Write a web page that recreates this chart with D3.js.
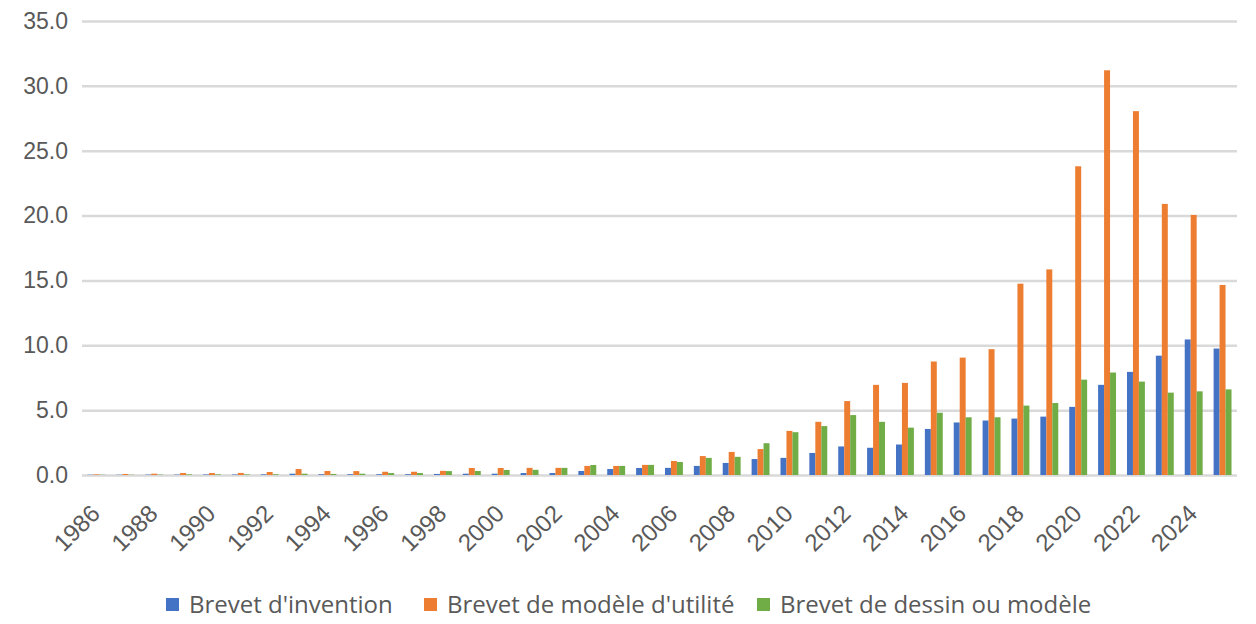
<!DOCTYPE html>
<html>
<head>
<meta charset="utf-8">
<script src="https://cdn.jsdelivr.net/npm/d3@7.9.0/dist/d3.min.js"></script>
<style>
  body { margin: 0; background: #fff; }
  svg { display: block; font-family: "Open Sans", "Noto Sans", sans-serif; }
</style>
</head>
<body>
<div id="chart"></div>
<script>
const years = [
  1986, 1987, 1988, 1989, 1990, 1991, 1992, 1993, 1994, 1995,
  1996, 1997, 1998, 1999, 2000, 2001, 2002, 2003, 2004, 2005,
  2006, 2007, 2008, 2009, 2010, 2011, 2012, 2013, 2014, 2015,
  2016, 2017, 2018, 2019, 2020, 2021, 2022, 2023, 2024, 2025
];

const invention = [
  0.02, 0.02, 0.03, 0.03, 0.04, 0.04, 0.05, 0.10, 0.06, 0.06,
  0.06, 0.06, 0.08, 0.10, 0.10, 0.15, 0.15, 0.31, 0.46, 0.54,
  0.55, 0.70, 0.93, 1.23, 1.32, 1.70, 2.20, 2.10, 2.35, 3.55,
  4.05, 4.20, 4.35, 4.50, 5.25, 6.95, 7.95, 9.20, 10.45, 9.75
];

const utility = [
  0.05, 0.08, 0.10, 0.15, 0.15, 0.16, 0.23, 0.46, 0.31, 0.30,
  0.25, 0.25, 0.32, 0.54, 0.54, 0.55, 0.55, 0.70, 0.70, 0.78,
  1.08, 1.46, 1.78, 2.00, 3.40, 4.10, 5.70, 6.95, 7.10, 8.75,
  9.05, 9.70, 14.75, 15.85, 23.80, 31.20, 28.05, 20.90, 20.05, 14.65
];

const design = [
  0.02, 0.02, 0.03, 0.05, 0.05, 0.05, 0.06, 0.10, 0.08, 0.10,
  0.15, 0.15, 0.30, 0.31, 0.39, 0.40, 0.55, 0.77, 0.70, 0.78,
  1.00, 1.32, 1.40, 2.45, 3.30, 3.77, 4.62, 4.10, 3.65, 4.80,
  4.45, 4.45, 5.35, 5.55, 7.35, 7.90, 7.20, 6.35, 6.45, 6.60
];

const seriesNames = ["Brevet d'invention", "Brevet de modèle d'utilité", "Brevet de dessin ou modèle"];
const seriesColors = ['#4472c4', '#ed7d31', '#70ad47'];
const yTicks = [0, 5, 10, 15, 20, 25, 30, 35];
const xTickLabels = [
  1986, 1988, 1990, 1992, 1994, 1996, 1998, 2000, 2002, 2004,
  2006, 2008, 2010, 2012, 2014, 2016, 2018, 2020, 2022, 2024
];

const width = 1256;
const height = 624;
const margin = { top: 21, right: 19, bottom: 149, left: 82 };

const rows = years.map((year, i) => ({
  year,
  values: [invention[i], utility[i], design[i]]
}));

const svg = d3.select('#chart')
  .append('svg')
  .attr('width', width)
  .attr('height', height);

const x0 = d3.scaleBand()
  .domain(years)
  .range([margin.left, width - margin.right])
  .paddingInner(0.38)
  .paddingOuter(0.19);

const x1 = d3.scaleBand()
  .domain(d3.range(seriesNames.length))
  .range([0, x0.bandwidth()]);

const y = d3.scaleLinear()
  .domain([0, 35])
  .range([height - margin.bottom, margin.top]);

// GRID + Y LABELS
const yAxis = svg.append('g')
  .attr('transform', `translate(${margin.left},0)`)
  .call(d3.axisLeft(y)
    .tickValues(yTicks)
    .tickSize(-(width - margin.left - margin.right))
    .tickPadding(14)
    .tickFormat(d3.format('.1f')));

yAxis.select('.domain').remove();
yAxis.selectAll('.tick line')
  .attr('stroke', '#d9d9d9')
  .attr('stroke-width', 2.5);
yAxis.selectAll('.tick text')
  .attr('fill', '#595959')
  .style('font-size', '23px');

// BARS
svg.append('g')
  .selectAll('g')
  .data(rows)
  .join('g')
  .attr('transform', d => `translate(${x0(d.year)},0)`)
  .selectAll('rect')
  .data(d => d.values.map((v, i) => ({ i, v })))
  .join('rect')
  .attr('x', d => x1(d.i))
  .attr('y', d => y(d.v))
  .attr('width', x1.bandwidth())
  .attr('height', d => y(0) - y(d.v))
  .attr('fill', d => seriesColors[d.i]);

// X LABELS
const xAxis = svg.append('g')
  .attr('transform', `translate(0,${height - margin.bottom})`)
  .call(d3.axisBottom(x0).tickValues(xTickLabels).tickSize(0).tickFormat(d => d));

xAxis.select('.domain').remove();
xAxis.selectAll('.tick text')
  .attr('fill', '#595959')
  .style('font-size', '24px')
  .attr('text-anchor', 'end')
  .attr('dy', null)
  .attr('y', 0)
  .attr('transform', 'translate(5,40) rotate(-45)');

// LEGEND
const legendX = [166, 424, 757];
const legend = svg.append('g')
  .selectAll('g')
  .data(seriesNames)
  .join('g')
  .attr('transform', (d, i) => `translate(${legendX[i]},605)`);

legend.append('rect')
  .attr('y', -7)
  .attr('width', 13)
  .attr('height', 13)
  .attr('fill', (d, i) => seriesColors[i]);

legend.append('text')
  .attr('x', 23)
  .attr('dy', '0.35em')
  .attr('fill', '#595959')
  .style('font-size', '24px')
  .text(d => d);
</script>
</body>
</html>
